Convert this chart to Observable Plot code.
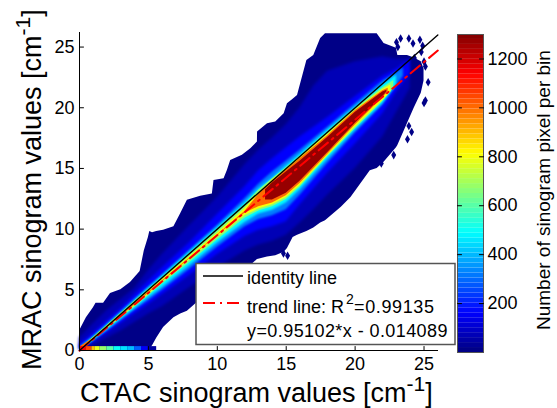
<!DOCTYPE html>
<html><head><meta charset="utf-8">
<script src="https://cdn.jsdelivr.net/npm/d3@7"></script>
<script src="https://cdn.jsdelivr.net/npm/@observablehq/plot@0.6"></script>
<style>
html,body{margin:0;padding:0;background:#fff}
#wrap{position:relative;width:557px;height:408px;overflow:hidden}
#wrap svg{position:absolute;left:0;top:0;background:transparent}
</style></head><body><div id="wrap"></div>
<script>
// Colour map (jet) stops
const jetDomain = [0, 162, 487, 812, 1137, 1300];
const jetRange = ["#00007f", "#0000ff", "#00ffff", "#ffff00", "#ff0000", "#7f0000"];
const xTicks = [0, 5, 10, 15, 20, 25];
const yTicks = [0, 5, 10, 15, 20, 25];
const barTicks = [200, 400, 600, 800, 1000, 1200];

// Density bands, each row: [CTAC x, MRAC low, MRAC high]
const band10 = [[0,0,1.6],[0.5,0,2.7],[1,0,3.5],[1.2,0,3.9],[1.75,0,3.9],[2.25,0,4.7],[3,0,5],[3.7,0,5.6],[4.4,0,6.5],[4.7,0,8.2],[5,0,9.3],[5.1,0.1,9.8],[5.3,0.4,9.7],[5.6,1,9.8],[6.1,1.9,9.9],[6.85,2.7,10.2],[7.34,3,11.27],[7.83,3.24,12.37],[8.79,4.2,12.7],[9.64,4.8,12.9],[9.76,4.9,14],[10.49,5.5,14.15],[10.73,5.7,14.84],[10.97,5.9,15.66],[11.82,6.5,16.08],[12.43,7,16.63],[12.91,7.5,17.18],[12.92,7.5,18],[13.64,7.7,18.69],[14.24,7.8,18.82],[14.85,8.1,19.5],[15.09,8.4,20.33],[15.5,9.3,20.7],[15.82,9.5,21],[16.5,9.8,23.9],[17,10.1,24.3],[17.5,10.5,25.7],[17.85,10.7,26.1],[19,11.8,26.1],[19.7,12.6,26.1],[21.1,14.8,26.1],[21.6,15,26.1],[22.1,15.5,25.3],[23,16.7,24.9],[23.1,16.9,24.3],[23.8,18.7,24.3],[24.3,20,24.1],[24.8,21.2,23.8],[25,22.2,23.2]];
const band70 = [[0,0.05,1],[1,0.4,2.2],[2,1,3.3],[3,1.6,4.2],[4,2.3,5.1],[5,3,6.6],[6,3.6,7.9],[8,5.2,10.3],[10,6.8,12.6],[12,8.2,15.3],[13,8.7,16.5],[14,9,17.5],[15,9.5,18.6],[16,10.5,20],[17,11.6,21.8],[18,12.8,23],[20,15,23.8],[22,17.6,24.2],[23,19.6,24],[24,21.6,24]];
const band160 = [[0,0.1,0.5],[1,0.7,1.45],[2,1.45,2.45],[3,2.2,3.45],[4,3,4.6],[5,3.8,5.7],[6,4.6,6.8],[8,6.2,8.9],[10,7.9,11.2],[12,9.4,13.5],[13,9.9,14.8],[14,10.2,15.8],[15,10.6,16.7],[16,12,17.6],[18,14.6,19.2],[20,17,20.9],[22,19.5,22.6],[23,21.3,23.2],[24,22.8,24]];
const band320 = [[0,0.1,0.28],[1,0.8,1.15],[2,1.6,2.15],[3,2.45,3.15],[4,3.3,4.2],[5,4.1,5.2],[6,4.95,6.2],[8,6.7,8.25],[10,8.5,10.3],[12,10.2,12.5],[13,10.8,13.7],[14,11.1,14.7],[15,11.6,15.6],[16,12.8,16.5],[18,15.4,18.4],[20,17.9,20.3],[22,20.2,22.2],[23,21.8,22.9],[23.5,22.6,23.3]];
const band480 = [[0.3,0.22,0.42],[1,0.82,1.08],[2,1.68,2.08],[3,2.58,3.08],[4,3.45,4.1],[5,4.35,5.12],[6,5.2,6.12],[8,7,8.12],[10,8.85,10.12],[12,10.55,12.15],[13,11.25,13.3],[14,11.55,14.2],[15,12.15,15.2],[16,13.25,16.15],[18,15.75,18.15],[20,18.15,20.05],[22,20.35,21.9],[23,21.9,22.7]];
const band650 = [[0.3,0.2,0.38],[1,0.88,1.05],[2,1.75,2.05],[3,2.65,3.05],[4,3.55,4.05],[5,4.5,5.02],[6,5.45,6],[8,7.25,8],[10,9.1,10],[12,10.9,12],[13,11.5,13.2],[14,11.85,14.15],[15,12.45,15.05],[16,13.45,16],[18,15.95,18],[20,18.25,19.95],[22,20.5,21.65],[22.8,21.6,22.25]];
const band800 = [[0.2,0.1,0.35],[1,0.9,1.02],[3,2.75,3],[5,4.62,4.92],[6,5.6,5.85],[8,7.45,7.75],[10,9.3,9.65],[12,11.1,11.7],[13,11.65,12.95],[14,12,14.05],[15,12.6,14.95],[16,13.6,15.9],[18,16.05,17.8],[20,18.4,19.8],[22,20.6,21.5],[22.6,21.3,21.9]];
const band1000 = [[0.1,0,0.35],[1,0.88,0.99],[2,1.82,1.94],[3,2.78,2.92],[5,4.7,4.8],[6,5.65,5.72],[8,7.55,7.62],[10,9.45,9.52],[12,11.3,11.45],[13,11.85,12.85],[14,12.15,13.95],[15,12.75,14.85],[16,13.75,15.8],[18,16.15,17.7],[20,18.55,19.75],[22,20.8,21.4],[22.4,21.3,21.6]];
const band1270 = [[13.5,12.4,13.25],[14,12.4,13.8],[15,12.95,14.7],[16,13.95,15.6],[18,16.3,17.55],[20,18.7,19.6],[22,20.9,21.3],[22.3,21.3,21.45]];

// Strip of pixels along MRAC = 0: [x1, x2, count]
const strip = [[0,0.5,1137],[0.5,0.9,1050],[0.9,1.15,900],[1.15,1.5,780],[1.5,2,680],[2,2.5,600],[2.5,3,500],[3,3.5,450],[3.5,4,400],[4,4.5,280],[4.5,5,150],[5,5.6,40]];
// Isolated outlying bins: [x, y]
const outliers = [[23.3,25.7],[23.9,25.7],[23,25.4],[24.2,25.3],[24.7,25.6],[24.9,25.1],[23.1,25],[24.8,24.6],[24.3,24.1],[25.1,23.4],[25,23.8],[25.3,22.1],[25.1,20.6],[25,20.4],[23.9,18.5],[24.1,18],[23.8,17.4],[22.8,16.1],[22.4,16.8],[21.9,15.4],[15.1,7.8],[14.8,8]];
// Reference lines
const identity = [[0,0],[26,26]];
const trend = [[0,-0.014089],[26,24.712431]];

const bands = [[band10,10,null],[band70,70,"blur(1.5px)"],[band160,160,"blur(1.5px)"],[band320,320,"blur(1px)"],[band480,480,"blur(0.8px)"],[band650,650,"blur(0.6px)"],[band800,800,"blur(0.5px)"],[band1000,1000,"blur(0.5px)"],[band1270,1270,"blur(0.5px)"]];
const font = "'Liberation Sans', Arial, sans-serif";
const tickShape = {draw(c, l) { c.moveTo(0, 0); c.lineTo(0, -l); }};
const tick = (data, x, y, rotate) => Plot.vector(data, {x, y, length: 4, rotate, anchor: "start", stroke: "#000", strokeWidth: 1, shape: tickShape});

const main = Plot.plot({
  width: 557, height: 408,
  marginLeft: 79, marginRight: 119, marginTop: 32, marginBottom: 58,
  style: {fontFamily: font, color: "#000", background: "transparent"},
  x: {domain: [0, 26.05], label: null},
  y: {domain: [0, 26.2], label: null},
  color: {type: "linear", domain: jetDomain, range: jetRange, interpolate: "rgb"},
  marks: [
    ...bands.map(([rows, v, blur]) => Plot.areaY(rows, {x: d => d[0], y1: d => d[1], y2: d => d[2], fill: () => v, imageFilter: blur || undefined})),
    Plot.rect(strip, {x1: d => d[0], x2: d => d[1], y1: () => 0, y2: () => 0.32, fill: d => d[2]}),
    Plot.dot(outliers, {x: d => d[0], y: d => d[1], symbol: "diamond", r: 2.6, fill: () => 10}),
    Plot.line(trend, {x: d => d[0], y: d => d[1], stroke: "#ff0000", strokeWidth: 2, strokeDasharray: "12,5,2,5"}),
    Plot.line(identity, {x: d => d[0], y: d => d[1], stroke: "#000", strokeWidth: 1.4}),
    Plot.ruleX([0], {stroke: "#000", strokeWidth: 1}),
    Plot.ruleY([0], {stroke: "#000", strokeWidth: 1}),
    tick(xTicks.filter(d => d > 0), d => d, () => 0, 0),
    tick(yTicks.filter(d => d > 0), () => 0, d => d, 90),
    Plot.axisX(xTicks, {tickSize: 0, tickPadding: 7, fontSize: 18, stroke: "none", fill: "#000", label: null}),
    Plot.axisY(yTicks, {tickSize: 0, tickPadding: 5, fontSize: 18, stroke: "none", fill: "#000", label: null})
  ]
});

const barRows = d3.range(0, 64).map(i => ({y1: i * 1300 / 64, y2: (i + 1) * 1300 / 64}));
const bar = Plot.plot({
  width: 557, height: 408,
  marginLeft: 457, marginRight: 74, marginTop: 34, marginBottom: 56,
  style: {fontFamily: font, color: "#000", background: "transparent"},
  x: {domain: [0, 1], axis: null},
  y: {domain: [0, 1300], label: null},
  color: {type: "linear", domain: jetDomain, range: jetRange, interpolate: "rgb"},
  marks: [
    Plot.rect(barRows, {x1: () => 0, x2: () => 1, y1: "y1", y2: "y2", fill: d => (d.y1 + d.y2) / 2}),
    Plot.frame({stroke: "#555", strokeWidth: 1}),
    Plot.axisY(barTicks, {anchor: "right", tickSize: 0, tickPadding: 4, fontSize: 18, stroke: "none", fill: "#000", label: null, tickFormat: d3.format("d")}),
    tick(barTicks, () => 1, d => d, -90),
    tick(barTicks, () => 0, d => d, 90)
  ]
});

const wrap = document.getElementById("wrap");
wrap.appendChild(main);
wrap.appendChild(bar);

// Text that carries superscripts, and the legend box
const s = d3.select(main);
function sup(parent, x, y, parts, size, supSize, extra) {
  const t = parent.append("text").attr("x", x).attr("y", y).attr("text-anchor", "start").attr("fill", "#000").attr("font-family", font).attr("font-size", size);
  if (extra) extra(t);
  parts.forEach(p => {
    const sp = t.append("tspan").text(p.text);
    if (p.sup) sp.attr("dy", -p.sup).attr("font-size", supSize);
    if (p.down) sp.attr("dy", p.down);
  });
  return t;
}
sup(s, 80, 402.3, [{text: "CTAC sinogram values [cm"}, {text: "-1", sup: 11}, {text: "]", down: 11}], 27, 21);
sup(s, 0, 0, [{text: "MRAC sinogram values [cm"}, {text: "-1", sup: 11}, {text: "]", down: 11}], 27, 21, t => t.attr("transform", "translate(41,370) rotate(-90)"));

const lg = s.append("g");
lg.append("rect").attr("x", 196).attr("y", 263.5).attr("width", 259).attr("height", 81).attr("fill", "#fff").attr("stroke", "#555").attr("stroke-width", 1.5);
lg.append("line").attr("x1", 203).attr("x2", 243).attr("y1", 276).attr("y2", 276).attr("stroke", "#000").attr("stroke-width", 1.5);
lg.append("line").attr("x1", 203).attr("x2", 243).attr("y1", 303).attr("y2", 303).attr("stroke", "#ff0000").attr("stroke-width", 2).attr("stroke-dasharray", "12,5,2,5");
sup(lg, 247, 284, [{text: "identity line"}], 18, 18);
sup(lg, 247, 313, [{text: "trend line: R"}], 18, 18);
sup(lg, 346, 304, [{text: "2"}], 14, 14);
sup(lg, 354, 313, [{text: "=0.99135"}], 18, 18).attr("textLength", 80).attr("lengthAdjust", "spacing");
sup(lg, 247, 337, [{text: "y=0.95102*x - 0.014089"}], 18, 18).attr("textLength", 200.5).attr("lengthAdjust", "spacing");

d3.select(bar).append("text").attr("text-anchor", "start").attr("transform", "translate(550,330) rotate(-90)").attr("fill", "#000").attr("font-family", font).attr("font-size", 19).text("Number of sinogram pixel per bin");
</script></body></html>
